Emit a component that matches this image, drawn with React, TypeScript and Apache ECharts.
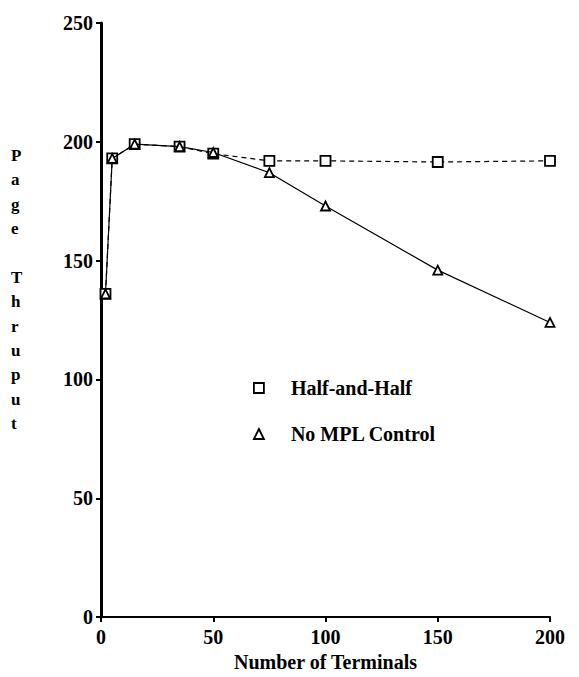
import React, { useEffect, useRef } from "react";
import * as echarts from "echarts";

const xTerminals = [2, 5, 15, 35, 50, 75, 100, 150, 200];
const halfAndHalf = [136, 193, 199, 198, 195, 192, 192, 191.5, 192];
const noMplControl = [136, 193, 199, 198, 195.5, 187, 173, 146, 124];
const yTicks = [0, 50, 100, 150, 200, 250];
const xTicks = [0, 50, 100, 150, 200];

const FONT = "Liberation Serif";

export default function App() {
  const ref = useRef<HTMLDivElement>(null);
  useEffect(() => {
    if (!ref.current) return;
    const chart = echarts.init(ref.current, null, { renderer: "svg" });
    const pair = (ys: number[]) => xTerminals.map((x, i) => [x, ys[i]]);
    chart.setOption({
      animation: false,
      backgroundColor: "#fff",
      textStyle: { fontFamily: FONT },
      grid: { left: 101, right: 29, top: 23, bottom: 59 },
      xAxis: {
        type: "value",
        min: xTicks[0],
        max: xTicks[xTicks.length - 1],
        interval: 50,
        name: "Number of Terminals",
        nameLocation: "middle",
        nameGap: 32,
        nameTextStyle: { fontFamily: FONT, fontWeight: "bold", fontSize: 20, color: "#000" },
        axisLine: { lineStyle: { color: "#000", width: 2 } },
        axisTick: { show: true, length: 5, lineStyle: { color: "#000", width: 2 } },
        axisLabel: { fontFamily: FONT, fontWeight: "bold", fontSize: 20, color: "#000", margin: 10 },
        splitLine: { show: false },
      },
      yAxis: {
        type: "value",
        min: yTicks[0],
        max: yTicks[yTicks.length - 1],
        interval: 50,
        axisLine: { show: true, lineStyle: { color: "#000", width: 3 } },
        axisTick: { show: true, length: 5, lineStyle: { color: "#000", width: 2 } },
        axisLabel: { fontFamily: FONT, fontWeight: "bold", fontSize: 20, color: "#000", margin: 8 },
        splitLine: { show: false },
      },
      legend: {
        orient: "vertical",
        left: 248,
        top: 373,
        itemGap: 26,
        itemWidth: 10,
        itemHeight: 10,
        textStyle: { fontFamily: FONT, fontWeight: "bold", fontSize: 20, color: "#000", padding: [0, 0, 0, 22] },
        itemStyle: { color: "#fff", borderColor: "#000", borderWidth: 1.8 },
        data: [
          { name: "Half-and-Half", icon: "rect" },
          { name: "No MPL Control", icon: "triangle" },
        ],
      },
      graphic: [
        {
          type: "text",
          left: 11,
          top: 143,
          style: {
            text: "P\na\ng\ne\n\nT\nh\nr\nu\np\nu\nt",
            fontFamily: FONT,
            fontWeight: "bold",
            fontSize: 17,
            fill: "#000",
            lineHeight: 24.4,
            align: "center",
          },
        },
      ],
      series: [
        {
          name: "Half-and-Half",
          type: "line",
          data: pair(halfAndHalf),
          symbol: "rect",
          symbolSize: 10,
          lineStyle: { color: "#000", width: 1.2, type: [5, 4] },
          itemStyle: { color: "#fff", borderColor: "#000", borderWidth: 1.8 },
          z: 2,
        },
        {
          name: "No MPL Control",
          type: "line",
          data: pair(noMplControl),
          symbol: "triangle",
          symbolSize: 9,
          lineStyle: { color: "#000", width: 1.2 },
          itemStyle: { color: "#fff", borderColor: "#000", borderWidth: 1.8 },
          z: 3,
        },
      ],
    });
    return () => chart.dispose();
  }, []);
  return <div ref={ref} style={{ width: 579, height: 677, position: "absolute", left: 0, top: 0 }} />;
}
